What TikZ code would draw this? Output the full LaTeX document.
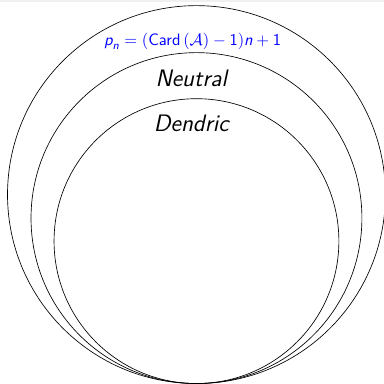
\documentclass[tikz,border=0pt]{standalone}
\usepackage{amsmath,amssymb}
\usepackage{tikz}
\usetikzlibrary{positioning}
\newcommand{\sfit}[1]{\text{\sffamily\itshape #1}}
\newcommand{\sfup}[1]{\text{\sffamily\upshape #1}}

\begin{document}
\begin{tikzpicture}[font=\sffamily,
  setline/.style={thin,black},
  setlabel/.style={font=\sffamily\Large\itshape}]
  \useasboundingbox (-4.18,-0.01) rectangle (3.99,8.16);
  \fill[gray!12] (-4.18,8.12) rectangle (3.99,8.16);
  % three sets touching at the bottom
  \coordinate (touch) at (0,0);
  \draw[setline] (0,4.02) circle[radius=4.02];
  \draw[setline] (0,3.52) circle[radius=3.52];
  \draw[setline] (0,3.03) circle[radius=3.03];
  \node[blue,font=\normalsize] (rule) at (-0.08,7.28)
    {$\sfit{p}_{\sfit{n}}=(\sfup{Card}\,(\mathcal{A})-\sfup{1})\sfit{n}+\sfup{1}$};
  \node[setlabel] (neutral) at (-0.11,6.49) {Neutral};
  \node[setlabel] (dendric) at (-0.11,5.53) {Dendric};
\end{tikzpicture}
\end{document}
